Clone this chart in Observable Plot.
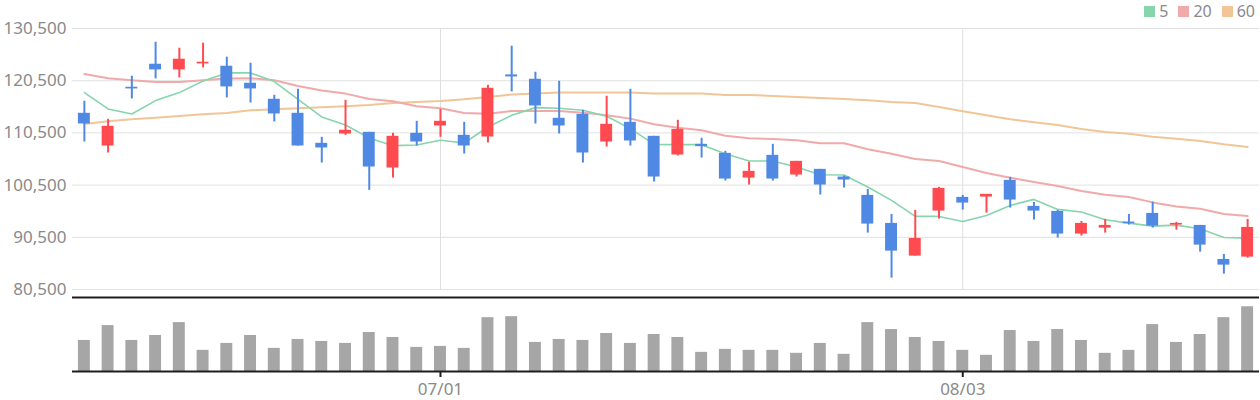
<!DOCTYPE html>
<html><head><meta charset="utf-8">
<script src="https://cdn.jsdelivr.net/npm/d3@7"></script>
<script src="https://cdn.jsdelivr.net/npm/@observablehq/plot@0.6"></script>
<style>
body{margin:0;background:#fff;font-family:"Noto Sans",sans-serif;}
#wrap{position:relative;width:1260px;height:400px;overflow:hidden;}
#price{position:absolute;left:0;top:0;}
#vol{position:absolute;left:0;top:296px;}
#wrap svg{overflow:visible;}
#legend{position:absolute;right:5px;top:0;height:22px;display:flex;align-items:center;font-size:16px;color:#8a8a8a;}
#legend .sw{display:inline-block;width:11px;height:11px;margin-right:4px;margin-left:10px;}
</style></head><body>
<div id="wrap"><div id="price"></div><div id="vol"></div><div id="legend"></div></div>
<script>
const dates = ["06/10","06/11","06/12","06/15","06/16","06/17","06/18","06/19","06/22","06/23",
  "06/24","06/25","06/26","06/29","06/30","07/01","07/02","07/03","07/06","07/07",
  "07/08","07/09","07/10","07/13","07/14","07/15","07/16","07/20","07/21","07/22",
  "07/23","07/24","07/27","07/28","07/29","07/30","07/31","08/03","08/04","08/05",
  "08/06","08/07","08/10","08/11","08/12","08/13","08/14","08/18","08/19","08/20"];
const open = [114255,107990,119242,123653,122566,123717,123270,120009,116941,114255,
  108502,110291,110611,103771,110420,111826,110036,109716,121607,120776,
  113297,114063,108758,112529,109844,106264,108310,106583,101853,106200,
  102428,103515,102045,98529,93159,86894,95524,98146,98210,101405,
  96419,95460,91113,92264,93414,95077,92839,92775,86255,86703];
const high = [116557,113105,121352,127873,126722,127681,124996,123845,117708,118858,
  109652,116749,110611,110420,112721,115022,112529,119625,127105,122119,
  120393,114830,117516,118858,109844,112913,109461,106967,104858,108310,
  105050,103515,102236,99680,94885,95652,100063,98529,98721,101981,
  97186,95652,93542,93926,94885,97250,93350,92775,87214,93926];
const low = [108757,106648,117004,120840,121032,122950,117196,116237,112593,107990,
  104730,110036,99487,101853,107990,109652,106456,108566,118347,112210,
  110291,104730,107798,107990,101086,106072,105689,101278,100511,101278,
  102045,98592,99934,91305,82674,86894,93990,95716,95141,96100,
  93798,90346,90730,91305,92839,92264,91880,87661,83442,86511];
const close = [112210,111762,118922,122566,124612,124037,119306,118922,114128,107990,
  107607,111000,103963,109844,108758,112721,107990,119050,121224,115662,
  111826,106648,112146,108950,102045,111187,107863,101661,103132,101661,
  105050,100511,101470,93031,87853,90282,99871,97059,98721,97633,
  95524,91113,93159,92775,93095,92648,93159,89004,85168,92392];
const ma5 = [118219,115087,114128,116685,118219,120457,121991,121991,120329,116941,
  113553,112018,109525,108055,108183,109077,108566,111635,113872,115343,
  115215,114830,113680,111315,108310,108246,108246,106520,105113,105113,
  103963,102492,102428,100125,97570,94501,94501,93542,94693,96611,
  97761,95844,95332,93862,93223,92648,92839,92136,90474,90346];
const ma20 = [121799,120968,120584,120265,120265,120584,120904,120968,120584,119497,
  118603,118027,117004,116557,115598,115215,114319,114191,114702,114702,
  114702,114383,113872,113233,112146,111507,110995,109972,109461,109333,
  109077,108502,108502,107351,106520,105497,105114,103963,102812,101917,
  101086,100319,99360,98657,98210,97187,96420,95972,94949,94565];
const ma60 = [112210,112721,113105,113424,113744,114063,114319,114830,115022,115215,
  115406,115598,115854,116237,116429,116621,116941,117388,117836,118027,
  118219,118219,118219,118219,118027,118027,118027,117772,117772,117580,
  117388,117196,117004,116749,116430,116238,115471,114640,113872,113105,
  112530,112018,111251,110676,110356,109781,109397,108949,108310,107799];
const volume = [94,139,94,109,148,64,85,109,70,97,
  91,85,118,103,73,76,70,163,166,88,
  97,94,115,85,112,103,58,67,64,64,
  55,85,52,148,127,103,91,64,49,124,
  91,127,94,55,64,142,88,112,163,196];
const yTicks = [80500,90500,100500,110500,120500,130500];
const xTicks = ["07/01","08/03"];
const maNames = ["5","20","60"];
const maColors = ["#86d5ad","#f2a9a9","#f2c596"];

const UP = "#ff4b50", DOWN = "#5089e3";
const rows = dates.map((d,i)=>({date:d, open:open[i], high:high[i], low:low[i], close:close[i],
  ma5:ma5[i], ma20:ma20[i], ma60:ma60[i], volume:volume[i]}));
const col = d => d.close >= d.open ? UP : DOWN;
const W = 1260, ML = 72, MR = 1;
const inset = 5.9;
const font = {fontFamily:"'Noto Sans', sans-serif", fontSize:"17px", background:"transparent", overflow:"visible"};

const price = Plot.plot({
  width: W, height: 310, marginLeft: ML, marginRight: MR, marginTop: 28, marginBottom: 21,
  style: font,
  x: {type:"band", domain: dates, padding: 0, axis: null},
  y: {domain: [80500,130500], axis: null},
  marks: [
    Plot.gridY({ticks: yTicks, stroke:"#e2e2e2", strokeOpacity:1, strokeWidth:1}),
    Plot.gridX({ticks: xTicks, stroke:"#dedede", strokeOpacity:1, strokeWidth:1}),
    Plot.axisY({ticks: yTicks, tickSize:0, tickPadding:6, tickFormat: d3.format(","), fill:"#8a8a8a", fontSize:17, label:null}),
    Plot.line(rows, {x:"date", y:"ma60", stroke: maColors[2], strokeWidth:2}),
    Plot.line(rows, {x:"date", y:"ma20", stroke: maColors[1], strokeWidth:2}),
    Plot.line(rows, {x:"date", y:"ma5", stroke: maColors[0], strokeWidth:1.6}),
    Plot.ruleX(rows, {x:"date", y1:"low", y2:"high", stroke: col, strokeWidth:2}),
    Plot.barY(rows, {x:"date", y1:"open", y2:"close", fill: col, insetLeft: inset, insetRight: inset})
  ]
});
document.getElementById("price").appendChild(price);

const vol = Plot.plot({
  width: W, height: 115, marginLeft: ML, marginRight: MR, marginTop: 1, marginBottom: 40,
  style: font,
  x: {type:"band", domain: dates, padding: 0, axis: null},
  y: {domain: [0,224], axis: null},
  marks: [
    Plot.barY(rows, {x:"date", y:"volume", fill:"#a6a6a6", insetLeft: inset, insetRight: inset}),
    Plot.ruleY([0, 224], {stroke:"#1e1e1e", strokeWidth:2}),
    Plot.axisX({ticks: xTicks, tickSize:6, tickPadding:5, stroke:"#1e1e1e", strokeWidth:2, fill:"#8a8a8a", fontSize:17, label:null})
  ]
});
document.getElementById("vol").appendChild(vol);

const lg = document.getElementById("legend");
maNames.forEach((n,i)=>{
  const s = document.createElement("span"); s.className="sw"; s.style.background = maColors[i];
  if (i===0) s.style.marginLeft = "0";
  const t = document.createElement("span"); t.textContent = n;
  lg.appendChild(s); lg.appendChild(t);
});
</script>
</body></html>
